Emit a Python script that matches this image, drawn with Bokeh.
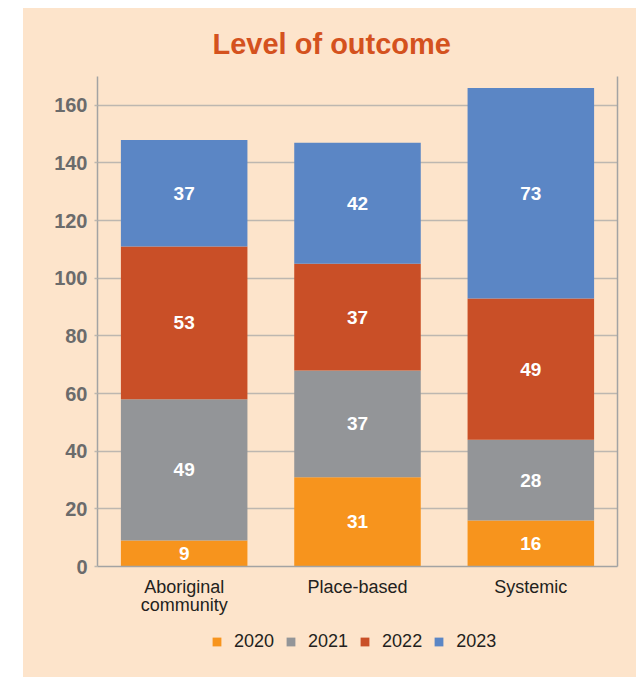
from bokeh.plotting import figure
from bokeh.models import (Range1d, FactorRange, Legend, LegendItem,
                          LinearAxis, CategoricalAxis, FixedTicker, ColumnDataSource,
                          CustomJSTickFormatter, Spacer)
from bokeh.layouts import row, column
from bokeh.core.properties import value
from bokeh.embed import file_html
from bokeh.resources import INLINE

# ---- data ----
categories = ["Aboriginal community", "Place-based", "Systemic"]
label_line1 = ["Aboriginal", "Place-based", "Systemic"]
label_line2 = ["community", "", ""]
years = ["2020", "2021", "2022", "2023"]
v2020 = [9, 31, 16]
v2021 = [49, 37, 28]
v2022 = [53, 37, 49]
v2023 = [37, 42, 73]
y_ticks = [0, 20, 40, 60, 80, 100, 120, 140, 160]
title_text = "Level of outcome"

# ---- styles ----
colors = ["#F7941D", "#939598", "#C94F27", "#5B86C5"]
PEACH = "#FDE4CB"
FONT = "Liberation Sans"
AXIS_GRAY = "#A3A3A3"
GRID_GRAY = "#BDB7B0"
W = 613

series = [v2020, v2021, v2022, v2023]
data = {"cat": categories}
for yr, vals in zip(years, series):
    data[yr] = vals
source = ColumnDataSource(data)

p = figure(x_range=FactorRange(*categories, range_padding=0),
           y_range=Range1d(0, 170),
           width=W, height=612, output_backend="svg", toolbar_location=None,
           min_border_left=74, min_border_right=19, min_border_top=20,
           min_border_bottom=54, title=title_text)
p.background_fill_color = PEACH
p.border_fill_color = PEACH
p.outline_line_color = None
p.styles = {"background-color": PEACH}

p.title.align = "left"
p.title.offset = 115
p.title.text_font = FONT
p.title.text_font_style = "bold"
p.title.text_font_size = "29px"
p.title.text_color = "#D4521E"
p.title.standoff = 34

renderers = p.vbar_stack(years, x="cat", width=0.73, source=source,
                         color=colors, line_color=None)

# value labels centred in each segment
lx, ly, lt = [], [], []
for i, cat in enumerate(categories):
    base = 0
    for vals in series:
        v = vals[i]
        lx.append(cat)
        ly.append(base + v / 2)
        lt.append(str(v))
        base += v
p.text(x=lx, y=ly, text=lt, text_color="white", text_font=value(FONT),
       text_font_style="bold", text_font_size="19px",
       text_align="center", text_baseline="middle")

# axes
yax = p.left[0]
yax.ticker = FixedTicker(ticks=y_ticks)
yax.major_label_text_font = FONT
yax.major_label_text_font_style = "bold"
yax.major_label_text_font_size = "20px"
yax.major_label_text_color = "#6B6B6B"
yax.axis_line_color = AXIS_GRAY
yax.axis_line_width = 1.5
yax.major_tick_line_color = GRID_GRAY
yax.major_tick_line_width = 1.5
yax.major_tick_out = 3
yax.major_tick_in = 0
yax.minor_tick_line_color = None
yax.major_label_standoff = 7

fmt_code = "return names[tick] ?? '';"
xax = p.below[0]
xax.formatter = CustomJSTickFormatter(args=dict(names=dict(zip(categories, label_line1))),
                                      code=fmt_code)
xax.major_label_text_font = FONT
xax.major_label_text_font_size = "18px"
xax.major_label_text_color = "#231F20"
xax.axis_line_color = AXIS_GRAY
xax.axis_line_width = 1.5
xax.major_tick_line_color = None
xax.minor_tick_line_color = None
xax.major_label_standoff = 4

xax2 = CategoricalAxis(formatter=CustomJSTickFormatter(
                           args=dict(names=dict(zip(categories, label_line2))),
                           code=fmt_code),
                       major_label_text_font=FONT,
                       major_label_text_font_size="18px",
                       major_label_text_color="#231F20",
                       axis_line_color=None, major_tick_line_color=None,
                       minor_tick_line_color=None, major_label_standoff=-11)
p.add_layout(xax2, "below")

rax = LinearAxis(ticker=FixedTicker(ticks=[]), axis_line_color=AXIS_GRAY,
                 axis_line_width=1.5, major_label_text_font_size="0px",
                 major_tick_line_color=None, minor_tick_line_color=None)
p.add_layout(rax, "right")

p.xgrid.grid_line_color = None
p.ygrid.ticker = FixedTicker(ticks=y_ticks)
p.ygrid.grid_line_color = GRID_GRAY
p.ygrid.grid_line_width = 1.5

# legend strip: a separate figure whose stacked bars share the data source but
# lie far outside its y range, so only the legend swatches are visible
leg = figure(width=W, height=57, output_backend="svg", toolbar_location=None,
             x_range=FactorRange(*categories, range_padding=0),
             y_range=Range1d(1000, 1001),
             x_axis_type=None, y_axis_type=None,
             min_border_left=74, min_border_right=19,
             min_border_top=0, min_border_bottom=0)
leg.background_fill_color = PEACH
leg.border_fill_color = PEACH
leg.outline_line_color = None
leg.styles = {"background-color": PEACH}
leg.grid.visible = False
proxies = leg.vbar_stack(years, x="cat", width=0.73, source=source,
                         color=colors, line_color=None)
legend = Legend(items=[LegendItem(label=yr, renderers=[r])
                       for yr, r in zip(years, proxies)],
                orientation="horizontal", location=(114, 25),
                glyph_width=11, glyph_height=11, label_standoff=12,
                spacing=11, label_text_font=FONT, label_text_font_size="18px",
                label_text_color="#231F20", border_line_color=None,
                background_fill_alpha=0, margin=0, padding=4)
leg.add_layout(legend, "center")

layout = row(Spacer(width=23, height=677),
             column(Spacer(width=W, height=8), p, leg))

with open("out.html", "w") as f:
    f.write(file_html(layout, INLINE))
